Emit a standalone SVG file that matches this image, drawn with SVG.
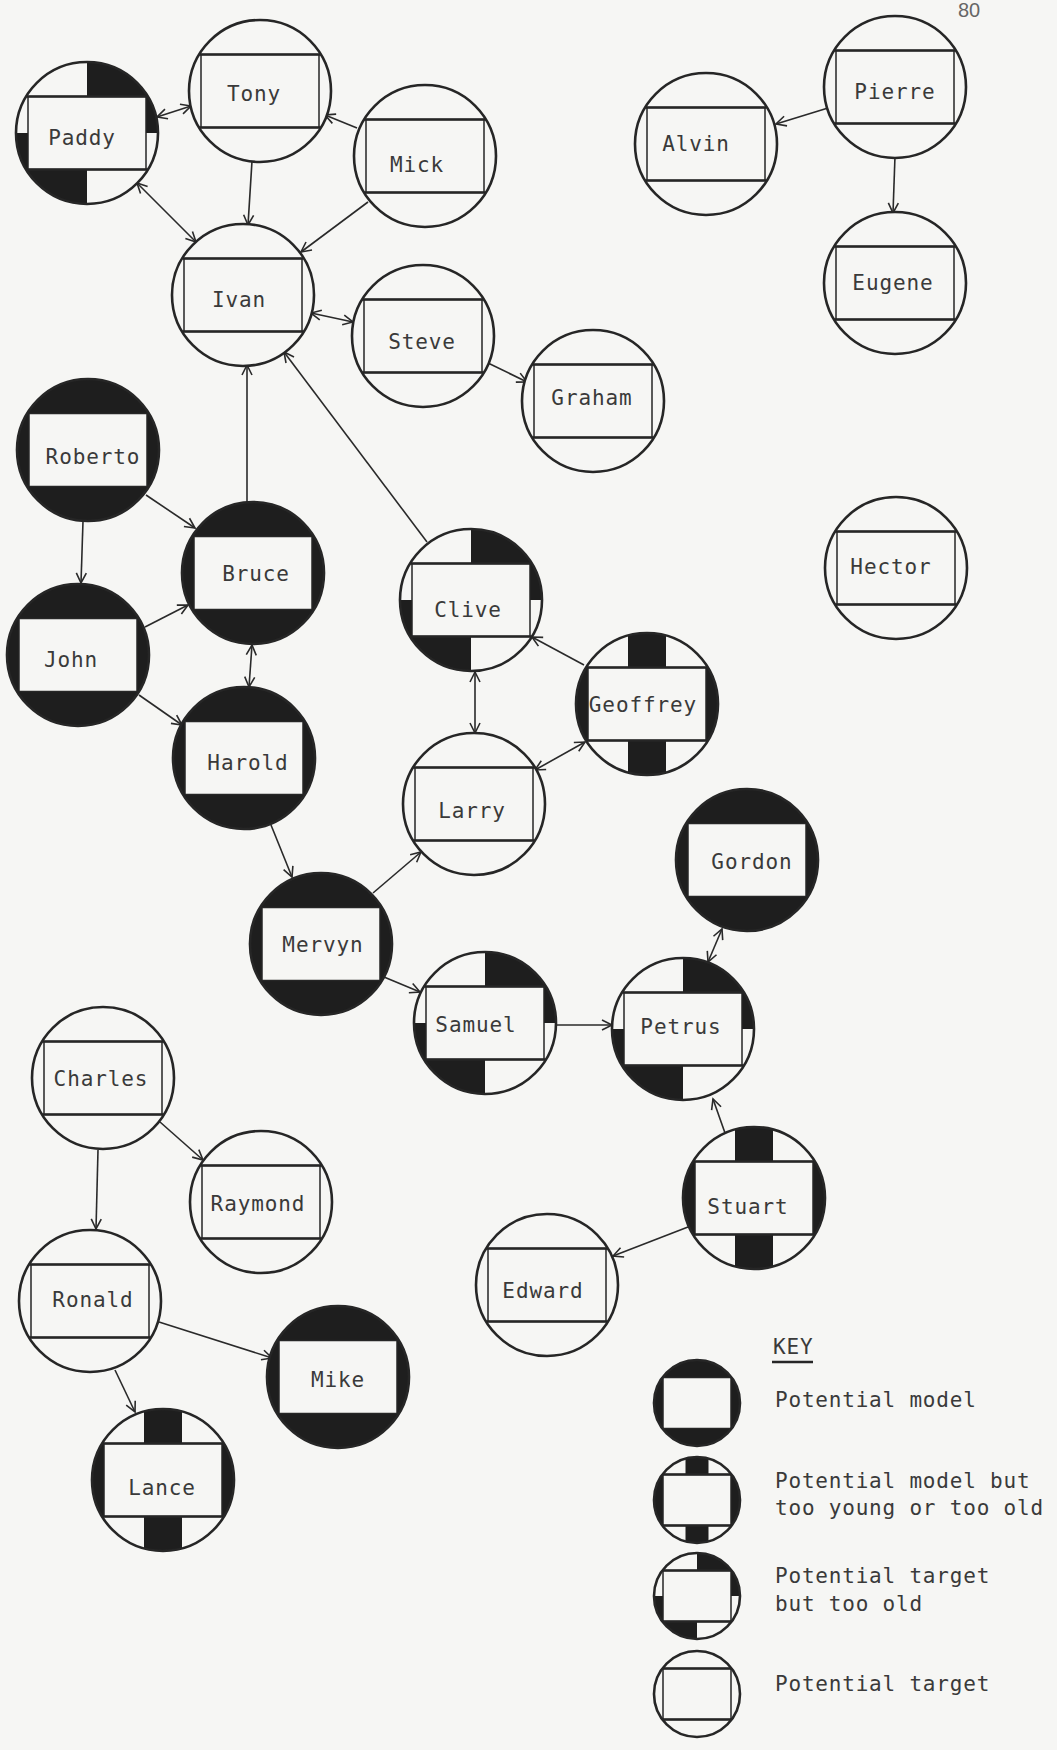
<svg xmlns="http://www.w3.org/2000/svg" xmlns:xlink="http://www.w3.org/1999/xlink" width="1057" height="1750" viewBox="0 0 1057 1750">
<style>
.paper{fill:#f6f6f4}
.bg{fill:#f6f6f4}
.blk{fill:#1e1e1e}
.ring{fill:none;stroke:#262626;stroke-width:2.6}
.box{fill:#f6f6f4;stroke:#262626;stroke-width:1.5}
.hl{fill:none;stroke:#262626;stroke-width:2.6}
.lbl{font-family:"DejaVu Sans Mono","Liberation Mono",monospace;font-size:21px;letter-spacing:0.9px;fill:#3a3a3a;text-anchor:middle}
.keyt{font-family:"DejaVu Sans Mono","Liberation Mono",monospace;font-size:21px;letter-spacing:0.8px;fill:#3a3a3a}
.pg{font-family:"Liberation Sans",Arial,sans-serif;font-size:20px;fill:#666}
.edge{fill:none;stroke:#2a2a2a;stroke-width:1.6}
.dbl{marker-start:url(#arr)}
</style>
<defs>
<marker id="arr" markerUnits="userSpaceOnUse" markerWidth="14" markerHeight="14" viewBox="-12 -7 14 14" refX="0" refY="0" orient="auto-start-reverse">
<path d="M-10,-5 L0,0 L-10,5" fill="none" stroke="#2a2a2a" stroke-width="1.6"/>
</marker>
<g id="T">
<circle r="71" class="bg"/>
<rect x="-59" y="-36.5" width="118" height="73" class="box"/>
<path d="M-60.5,-36.5H60.5M-60.5,36.5H60.5" class="hl"/>
<circle r="71" class="ring"/>
</g>
<g id="M">
<circle r="71" class="blk"/>
<rect x="-59" y="-36.5" width="118" height="73" class="box"/>
<circle r="71" class="ring"/>
</g>
<g id="O">
<circle r="71" class="bg"/>
<path class="blk" d="M0,0V-71A71,71 0 0 1 71,0ZM0,0V71A71,71 0 0 1 -71,0Z"/>
<rect x="-59" y="-36.5" width="118" height="73" class="box"/>
<path d="M-60.5,-36.5H60.5M-60.5,36.5H60.5" class="hl"/>
<circle r="71" class="ring"/>
</g>
<g id="B">
<circle r="71" class="bg"/>
<path class="blk" d="M-59,-39.5A71,71 0 0 0 -59,39.5ZM59,-39.5A71,71 0 0 1 59,39.5ZM-19,-68.4A71,71 0 0 1 19,-68.4V68.4A71,71 0 0 1 -19,68.4Z"/>
<rect x="-59" y="-36.5" width="118" height="73" class="box"/>
<path d="M-60.5,-36.5H60.5M-60.5,36.5H60.5" class="hl"/>
<circle r="71" class="ring"/>
</g>
<g id="kT">
<circle r="43" class="bg"/>
<rect x="-34" y="-25.5" width="68" height="51" class="box"/>
<path d="M-35,-25.5H35M-35,25.5H35" class="hl"/>
<circle r="43" class="ring"/>
</g>
<g id="kM">
<circle r="43" class="blk"/>
<rect x="-34" y="-25.5" width="68" height="51" class="box"/>
<circle r="43" class="ring"/>
</g>
<g id="kO">
<circle r="43" class="bg"/>
<path class="blk" d="M0,0V-43A43,43 0 0 1 43,0ZM0,0V43A43,43 0 0 1 -43,0Z"/>
<rect x="-34" y="-25.5" width="68" height="51" class="box"/>
<path d="M-35,-25.5H35M-35,25.5H35" class="hl"/>
<circle r="43" class="ring"/>
</g>
<g id="kB">
<circle r="43" class="bg"/>
<path class="blk" d="M-34,-26.3A43,43 0 0 0 -34,26.3ZM34,-26.3A43,43 0 0 1 34,26.3ZM-11.5,-41.4A43,43 0 0 1 11.5,-41.4V41.4A43,43 0 0 1 -11.5,41.4Z"/>
<rect x="-34" y="-25.5" width="68" height="51" class="box"/>
<path d="M-35,-25.5H35M-35,25.5H35" class="hl"/>
<circle r="43" class="ring"/>
</g>
</defs>
<rect class="paper" x="0" y="0" width="1057" height="1750"/>
<text class="pg" x="958" y="17">80</text>
<g id="connectors" marker-end="url(#arr)">
<path class="edge dbl" d="M157,117L191,106"/>
<path class="edge" d="M357,128L325,115"/>
<path class="edge" d="M252,161L248,225"/>
<path class="edge" d="M368,202L301,252"/>
<path class="edge dbl" d="M137,183L196,242"/>
<path class="edge dbl" d="M311,313L353,322"/>
<path class="edge" d="M488,363L527,382"/>
<path class="edge" d="M247,502L247,365"/>
<path class="edge" d="M427,542L284,352"/>
<path class="edge" d="M146,495L195,528"/>
<path class="edge" d="M83,521L81,583"/>
<path class="edge" d="M145,627L188,605"/>
<path class="edge dbl" d="M252,645L249,687"/>
<path class="edge" d="M139,695L182,725"/>
<path class="edge" d="M271,825L292,877"/>
<path class="edge" d="M373,893L421,852"/>
<path class="edge dbl" d="M475,672L475,733"/>
<path class="edge" d="M584,665L532,637"/>
<path class="edge dbl" d="M585,742L535,770"/>
<path class="edge" d="M384,977L420,992"/>
<path class="edge" d="M556,1025L612,1025"/>
<path class="edge dbl" d="M708,962L722,929"/>
<path class="edge" d="M725,1133L713,1099"/>
<path class="edge" d="M688,1227L613,1256"/>
<path class="edge" d="M98,1150L96,1229"/>
<path class="edge" d="M160,1122L203,1160"/>
<path class="edge" d="M159,1322L272,1358"/>
<path class="edge" d="M115,1370L135,1412"/>
<path class="edge" d="M828,108L776,124"/>
<path class="edge" d="M895,156L893,213"/>
</g>
<g id="n-paddy"><use href="#O" x="87" y="133"/><text class="lbl" x="82" y="145">Paddy</text></g>
<g id="n-tony"><use href="#T" x="260" y="91"/><text class="lbl" x="254" y="101">Tony</text></g>
<g id="n-mick"><use href="#T" x="425" y="156"/><text class="lbl" x="417" y="172">Mick</text></g>
<g id="n-ivan"><use href="#T" x="243" y="295"/><text class="lbl" x="239" y="307">Ivan</text></g>
<g id="n-steve"><use href="#T" x="423" y="336"/><text class="lbl" x="422" y="349">Steve</text></g>
<g id="n-graham"><use href="#T" x="593" y="401"/><text class="lbl" x="592" y="405">Graham</text></g>
<g id="n-roberto"><use href="#M" x="88" y="450"/><text class="lbl" x="93" y="464">Roberto</text></g>
<g id="n-bruce"><use href="#M" x="253" y="573"/><text class="lbl" x="256" y="581">Bruce</text></g>
<g id="n-john"><use href="#M" x="78" y="655"/><text class="lbl" x="71" y="667">John</text></g>
<g id="n-harold"><use href="#M" x="244" y="758"/><text class="lbl" x="248" y="770">Harold</text></g>
<g id="n-clive"><use href="#O" x="471" y="600"/><text class="lbl" x="468" y="617">Clive</text></g>
<g id="n-geoffrey"><use href="#B" x="647" y="704"/><text class="lbl" x="643" y="712">Geoffrey</text></g>
<g id="n-larry"><use href="#T" x="474" y="804"/><text class="lbl" x="472" y="818">Larry</text></g>
<g id="n-gordon"><use href="#M" x="747" y="860"/><text class="lbl" x="752" y="869">Gordon</text></g>
<g id="n-mervyn"><use href="#M" x="321" y="944"/><text class="lbl" x="323" y="952">Mervyn</text></g>
<g id="n-samuel"><use href="#O" x="485" y="1023"/><text class="lbl" x="476" y="1032">Samuel</text></g>
<g id="n-petrus"><use href="#O" x="683" y="1029"/><text class="lbl" x="681" y="1034">Petrus</text></g>
<g id="n-stuart"><use href="#B" x="754" y="1198"/><text class="lbl" x="748" y="1214">Stuart</text></g>
<g id="n-edward"><use href="#T" x="547" y="1285"/><text class="lbl" x="543" y="1298">Edward</text></g>
<g id="n-charles"><use href="#T" x="103" y="1078"/><text class="lbl" x="101" y="1086">Charles</text></g>
<g id="n-raymond"><use href="#T" x="261" y="1202"/><text class="lbl" x="258" y="1211">Raymond</text></g>
<g id="n-ronald"><use href="#T" x="90" y="1301"/><text class="lbl" x="93" y="1307">Ronald</text></g>
<g id="n-mike"><use href="#M" x="338" y="1377"/><text class="lbl" x="338" y="1387">Mike</text></g>
<g id="n-lance"><use href="#B" x="163" y="1480"/><text class="lbl" x="162" y="1495">Lance</text></g>
<g id="n-alvin"><use href="#T" x="706" y="144"/><text class="lbl" x="696" y="151">Alvin</text></g>
<g id="n-pierre"><use href="#T" x="895" y="87"/><text class="lbl" x="895" y="99">Pierre</text></g>
<g id="n-eugene"><use href="#T" x="895" y="283"/><text class="lbl" x="893" y="290">Eugene</text></g>
<g id="n-hector"><use href="#T" x="896" y="568"/><text class="lbl" x="891" y="574">Hector</text></g>
<g id="key">
<text class="keyt" x="773" y="1354">KEY</text>
<path d="M772,1362H813" class="hl" stroke-width="2"/>
<use href="#kM" x="697" y="1403"/>
<text class="keyt" x="775" y="1407">Potential model</text>
<use href="#kB" x="697" y="1500"/>
<text class="keyt" x="775" y="1488">Potential model but</text>
<text class="keyt" x="775" y="1515">too young or too old</text>
<use href="#kO" x="697" y="1596"/>
<text class="keyt" x="775" y="1583">Potential target</text>
<text class="keyt" x="775" y="1611">but too old</text>
<use href="#kT" x="697" y="1694"/>
<text class="keyt" x="775" y="1691">Potential target</text>
</g>
</svg>
